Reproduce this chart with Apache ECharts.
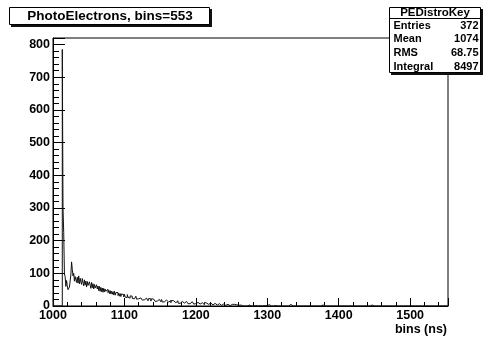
<!DOCTYPE html>
<html>
<head>
<meta charset="utf-8">
<script src="https://cdn.jsdelivr.net/npm/echarts@6/dist/echarts.min.js"></script>
<style>
  html, body { margin: 0; padding: 0; background: #fff; }
  #chart { width: 487px; height: 339px; }
</style>
</head>
<body>
<div id="chart"></div>
<script>
// Photo-electron arrival time histogram: 553 bins of 1 ns starting at 1000 ns
const histTitle = 'PhotoElectrons, bins=553';
const binStart = 1000;
const binWidth = 1;
const xRange = [1000, 1553];
const yRange = [0, 820];
const axisTitle = 'bins (ns)';

// bin contents, ten bins per row (1000-1009, 1010-1019, ...)
const counts = [
  20, 0, 0, 0, 0, 0, 0, 0, 0, 0,
  0, 0, 0, 785, 300, 225, 98, 90, 60, 78,
  62, 50, 46, 58, 62, 95, 135, 112, 92, 100,
  76, 90, 95, 72, 88, 70, 92, 68, 85, 74,
  66, 84, 72, 62, 80, 64, 76, 58, 75, 63,
  58, 74, 64, 54, 72, 56, 68, 52, 66, 55,
  50, 65, 52, 61, 47, 60, 45, 57, 44, 55,
  42, 54, 43, 52, 45, 40, 51, 41, 48, 38,
  47, 37, 45, 36, 44, 34, 45, 33, 41, 35,
  41, 32, 39, 30, 38, 29, 37, 31, 35, 28,
  36, 27, 33, 26, 35, 27, 32, 24, 31, 25,
  30, 23, 29, 22, 28, 21, 30, 21, 27, 22,
  27, 19, 25, 20, 27, 18, 24, 19, 24, 17,
  24, 18, 23, 16, 23, 17, 22, 15, 22, 16,
  21, 15, 22, 14, 20, 15, 21, 13, 20, 14,
  19, 13, 20, 12, 18, 13, 19, 11, 18, 12,
  17, 12, 18, 11, 17, 10, 17, 11, 16, 10,
  16, 10, 15, 9, 16, 9, 15, 8, 14, 10,
  14, 9, 15, 9, 13, 7, 14, 8, 13, 7,
  13, 7, 12, 6, 13, 8, 12, 6, 11, 7,
  12, 6, 11, 5, 12, 6, 10, 5, 10, 6,
  10, 4, 11, 5, 9, 4, 10, 5, 9, 3,
  9, 4, 8, 3, 9, 4, 8, 2, 7, 3,
  8, 2, 7, 3, 8, 2, 6, 2, 6, 3,
  6, 2, 6, 1, 5, 2, 6, 1, 4, 2,
  5, 1, 4, 2, 5, 1, 4, 0, 3, 2,
  4, 0, 3, 1, 4, 0, 3, 1, 2, 0,
  3, 0, 2, 1, 3, 0, 2, 0, 2, 0,
  2, 0, 2, 1, 1, 0, 2, 0, 1, 0,
  1, 0, 2, 0, 1, 0, 1, 0, 0, 1,
  0, 0, 4, 0, 1, 0, 0, 2, 0, 0,
  0, 1, 0, 0, 0, 0, 0, 0, 3, 0,
  0, 0, 0, 0, 1, 0, 0, 0, 0, 0,
  0, 0, 5, 0, 0, 0, 0, 0, 0, 0,
  0, 0, 0, 0, 0, 0, 0, 0, 0, 0,
  0, 2, 0, 0, 0, 0, 0, 0, 0, 0,
  0, 0, 0, 0, 0, 0, 0, 0, 0, 0,
  0, 0, 0, 0, 0, 0, 0, 3, 0, 0,
  0, 0, 0, 0, 0, 0, 0, 0, 0, 0,
  0, 0, 0, 0, 0, 0, 0, 0, 0, 0,
  0, 0, 0, 0, 0, 0, 0, 0, 0, 0,
  2, 0, 0, 0, 0, 0, 0, 0, 0, 0,
  0, 0, 0, 0, 0, 0, 0, 0, 0, 0,
  0, 0, 0, 0, 0, 0, 0, 0, 0, 0,
  0, 0, 0, 0, 0, 0, 3, 0, 0, 0,
  0, 0, 0, 0, 0, 0, 0, 0, 0, 0,
  0, 0, 0, 0, 0, 0, 0, 0, 0, 0,
  0, 0, 0, 0, 0, 0, 0, 0, 0, 0,
  0, 0, 0, 0, 0, 0, 0, 0, 0, 0,
  0, 0, 0, 0, 0, 0, 0, 0, 0, 0,
  0, 0, 0, 0, 0, 0, 0, 0, 0, 0,
  0, 0, 0, 0, 0, 0, 0, 0, 0, 0,
  0, 0, 0, 0, 0, 0, 0, 0, 0, 0,
  0, 0, 0, 0, 0, 0, 0, 0, 0, 0,
  0, 0, 0, 0, 0, 0, 0, 0, 0, 0,
  0, 0, 0
];

// statistics box
const statsTitle = 'PEDistroKey';
const statNames = ['Entries', 'Mean', 'RMS', 'Integral'];
const statValues = ['372', '1074', '68.75', '8497'];

const FONT = '"Liberation Sans", Arial, Helvetica, sans-serif';
const chart = echarts.init(document.getElementById('chart'), null, { renderer: 'canvas' });

const histPoints = counts.map((c, i) => [binStart + (i + 0.5) * binWidth, c]);

const graphics = [];
// title box with drop shadow
graphics.push({ type: 'rect', shape: { x: 11, y: 9, width: 201, height: 18 }, style: { fill: '#111' }, z: 100 });
graphics.push({ type: 'rect', shape: { x: 9.5, y: 7.5, width: 200, height: 17 }, style: { fill: '#fff', stroke: '#000', lineWidth: 1 }, z: 101 });
graphics.push({ type: 'text', x: 110, y: 16.5, z: 102,
  style: { text: histTitle, font: 'bold 13.5px ' + FONT, fill: '#000', align: 'center', verticalAlign: 'middle' } });

// statistics box with drop shadow
const sx = 389.5, sy = 7.5, sw = 91, sh = 65;
graphics.push({ type: 'rect', shape: { x: sx + 1.5, y: sy + 1.5, width: sw + 1, height: sh + 1 }, style: { fill: '#111' }, z: 100 });
graphics.push({ type: 'rect', shape: { x: sx, y: sy, width: sw, height: sh }, style: { fill: '#fff', stroke: '#000', lineWidth: 1 }, z: 101 });
graphics.push({ type: 'line', shape: { x1: sx, y1: 18.5, x2: sx + sw, y2: 18.5 }, style: { stroke: '#000', lineWidth: 1 }, z: 102 });
graphics.push({ type: 'text', x: sx + sw / 2, y: 13, z: 102,
  style: { text: statsTitle, font: 'bold 11.5px ' + FONT, fill: '#000', align: 'center', verticalAlign: 'middle' } });
statNames.forEach((name, i) => {
  const ty = 25.5 + i * 13.8;
  graphics.push({ type: 'text', x: sx + 4, y: ty, z: 102,
    style: { text: name, font: 'bold 11px ' + FONT, fill: '#000', align: 'left', verticalAlign: 'middle' } });
  graphics.push({ type: 'text', x: sx + sw - 2, y: ty, z: 102,
    style: { text: statValues[i], font: 'bold 11px ' + FONT, fill: '#000', align: 'right', verticalAlign: 'middle' } });
});

// x axis title, right aligned under the frame
graphics.push({ type: 'text', x: 447, y: 330, z: 102,
  style: { text: axisTitle, font: 'bold 12.5px ' + FONT, fill: '#000', align: 'right', verticalAlign: 'middle' } });

const labelStyle = { color: '#000', fontWeight: 'bold', fontSize: 12.5, fontFamily: FONT };

chart.setOption({
  animation: false,
  backgroundColor: '#fff',
  grid: { left: 53, right: 39, top: 38, bottom: 33, show: true, borderColor: '#000', borderWidth: 1, backgroundColor: 'transparent' },
  xAxis: {
    type: 'value', min: xRange[0], max: xRange[1], interval: 100,
    axisLine: { show: true, lineStyle: { color: '#000', width: 1 } },
    axisTick: { show: true, inside: true, length: 8, lineStyle: { color: '#000' } },
    minorTick: { show: true, splitNumber: 5, length: 4, lineStyle: { color: '#000' } },
    splitLine: { show: false },
    axisLabel: Object.assign({ margin: 3, showMaxLabel: false,
      formatter: v => (v % 100 === 0 ? String(v) : '') }, labelStyle)
  },
  yAxis: {
    type: 'value', min: yRange[0], max: yRange[1], interval: 100,
    axisLine: { show: true, lineStyle: { color: '#000', width: 1 } },
    axisTick: { show: true, inside: true, length: 12, lineStyle: { color: '#000' } },
    minorTick: { show: true, splitNumber: 5, length: 6, lineStyle: { color: '#000' } },
    splitLine: { show: false },
    axisLabel: Object.assign({ margin: 3, showMaxLabel: false,
      formatter: v => (v % 100 === 0 ? String(v) : '') }, labelStyle)
  },
  series: [{
    type: 'line',
    data: histPoints,
    step: 'middle',
    showSymbol: false,
    symbol: 'none',
    sampling: null,
    lineStyle: { color: '#111', width: 1 },
    silent: true
  }],
  graphic: graphics
});
</script>
</body>
</html>
